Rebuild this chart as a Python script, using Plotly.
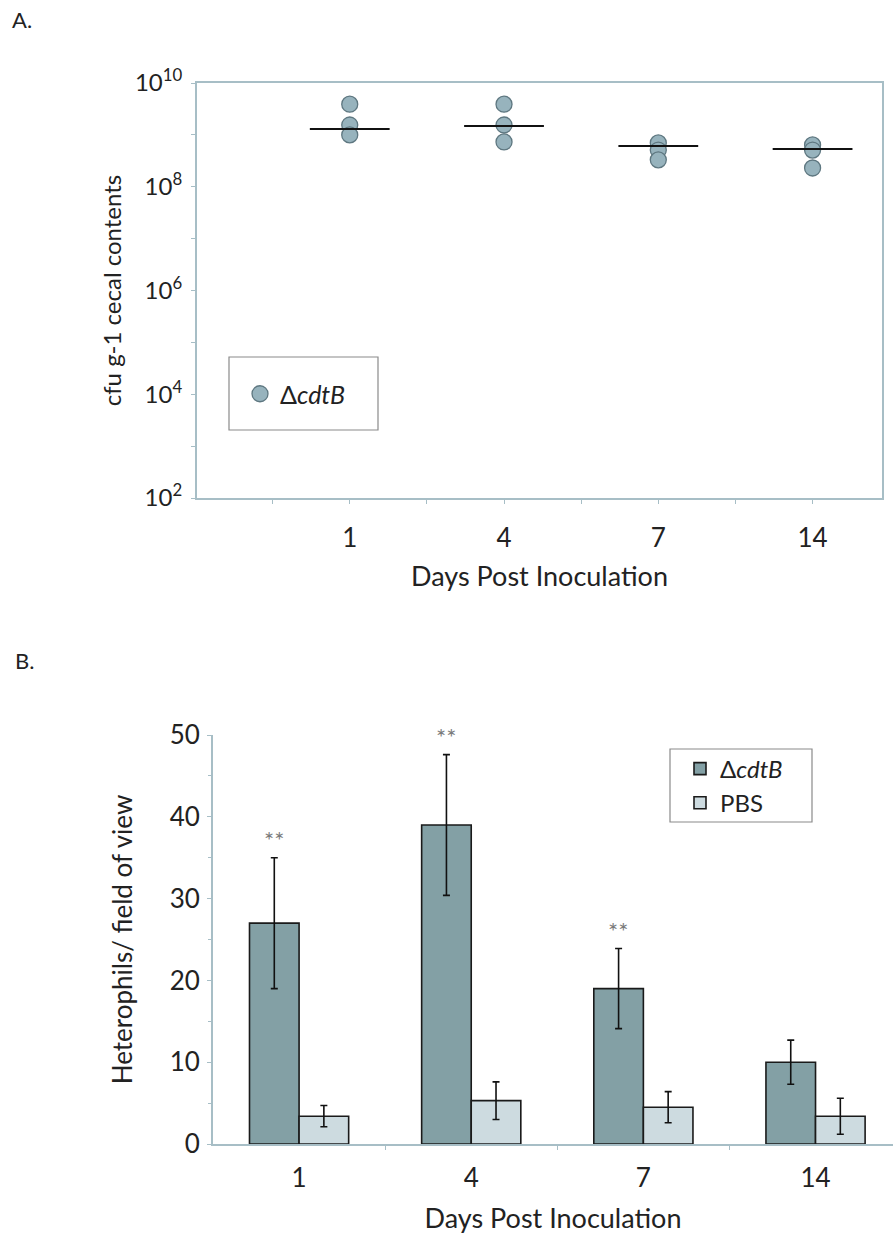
import plotly.graph_objects as go

# ---------------- data ----------------
days = ["1", "4", "7", "14"]
day_pos = [0, 1, 2, 3]

# Panel A: cfu per g cecal contents (ΔcdtB), individual birds per day
cfu_day1 = [3.9e9, 1.55e9, 1.0e9]
cfu_day4 = [3.9e9, 1.55e9, 7.3e8]
cfu_day7 = [7.0e8, 5.1e8, 3.3e8]
cfu_day14 = [6.4e8, 5.1e8, 2.3e8]
cfu_median = [1.3e9, 1.48e9, 6.1e8, 5.35e8]

# Panel B: heterophils per field of view
het_cdtb = [27, 39, 19, 10]
het_cdtb_err = [8, 8.6, 4.9, 2.7]
het_pbs = [3.4, 5.3, 4.5, 3.4]
het_pbs_err = [1.3, 2.3, 1.9, 2.2]
signif = ["**", "**", "**", ""]

y_major_a = [1e2, 1e4, 1e6, 1e8, 1e10]
y_labels_a = ["10<sup>2</sup>", "10<sup>4</sup>", "10<sup>6</sup>",
              "10<sup>8</sup>", "10<sup>10</sup>"]
y_minor_a = [1e3, 1e5, 1e7, 1e9]
y_ticks_b = [0, 10, 20, 30, 40, 50]

# ---------------- style ----------------
W, H = 893, 1240
FONT = "Lato, Open Sans, sans-serif"
TXT = "#222222"
AXIS_COL = "#a7bec6"
DOT_FILL = "#97b3bd"
DOT_LINE = "#5e7780"
BAR_DARK = "#83a0a5"
BAR_LIGHT = "#cddbe0"

def px_x(p):
    return p / W

def px_y(p):
    return 1 - p / H

def f(size, color=TXT):
    return dict(size=size, family=FONT, color=color)

fig = go.Figure()

# Panel A points
all_cfu = [cfu_day1, cfu_day4, cfu_day7, cfu_day14]
xs, ys = [], []
for pos, vals in zip(day_pos, all_cfu):
    xs += [pos] * len(vals)
    ys += vals
fig.add_trace(go.Scatter(
    x=xs, y=ys, mode="markers", name="Δ<i>cdtB</i>",
    marker=dict(symbol="circle", size=16, color=DOT_FILL,
                line=dict(color=DOT_LINE, width=1.3)),
    xaxis="x", yaxis="y", legend="legend"))
# Panel A medians
fig.add_trace(go.Scatter(
    x=day_pos, y=cfu_median, mode="markers", showlegend=False,
    marker=dict(symbol="line-ew", size=57, color="black",
                line=dict(color="#111111", width=2)),
    xaxis="x", yaxis="y"))

# Panel B bars
fig.add_trace(go.Bar(
    x=day_pos, y=het_cdtb, name="Δ<i>cdtB</i>",
    error_y=dict(type="data", array=het_cdtb_err, color="#111111",
                 thickness=1.6, width=3.5),
    marker=dict(color=BAR_DARK, line=dict(color="#1a1a1a", width=1.6)),
    xaxis="x2", yaxis="y2", legend="legend2"))
fig.add_trace(go.Bar(
    x=day_pos, y=het_pbs, name="PBS",
    error_y=dict(type="data", array=het_pbs_err, color="#111111",
                 thickness=1.6, width=3.5),
    marker=dict(color=BAR_LIGHT, line=dict(color="#1a1a1a", width=1.6)),
    xaxis="x2", yaxis="y2", legend="legend2"))

annotations = [
    dict(text="A.", x=px_x(10), y=px_y(20), xref="paper", yref="paper",
         xanchor="left", yanchor="middle", showarrow=False, font=f(22)),
    dict(text="B.", x=px_x(13), y=px_y(660), xref="paper", yref="paper",
         xanchor="left", yanchor="middle", showarrow=False, font=f(22)),
]
for pos, v, e, s in zip(day_pos, het_cdtb, het_cdtb_err, signif):
    if s:
        annotations.append(dict(
            text=s, x=pos, y=v + e, xref="x2", yref="y2", xshift=-25,
            yshift=2, yanchor="bottom", showarrow=False,
            font=f(24, "#7a7a7a")))

shapes = [
    dict(type="rect", xref="paper", yref="paper",
         x0=px_x(229), x1=px_x(378), y0=px_y(430), y1=px_y(357),
         line=dict(color="#8a8a8a", width=1.2), fillcolor="rgba(0,0,0,0)"),
    dict(type="rect", xref="paper", yref="paper",
         x0=px_x(670), x1=px_x(812), y0=px_y(822), y1=px_y(749),
         line=dict(color="#8a8a8a", width=1.2), fillcolor="rgba(0,0,0,0)"),
]

fig.update_layout(
    width=W, height=H, margin=dict(l=0, r=0, t=0, b=0),
    paper_bgcolor="white", plot_bgcolor="white",
    font=dict(family=FONT, color=TXT),
    barmode="group", bargap=0.424, bargroupgap=0,
    annotations=annotations, shapes=shapes,
    xaxis=dict(domain=[px_x(197), px_x(882)], anchor="y",
               range=[-0.99, 3.45], tickvals=day_pos, ticktext=days,
               ticks="outside", ticklen=4, tickcolor=AXIS_COL,
               showline=True, mirror=True, linecolor=AXIS_COL, linewidth=2,
               showgrid=False, zeroline=False, automargin=False,
               tickfont=f(26), ticklabelstandoff=12,
               minor=dict(tickvals=[-0.5, 0.5, 1.5, 2.5], ticks="outside",
                          ticklen=4, tickcolor=AXIS_COL, showgrid=False),
               title=dict(text="Days Post Inoculation", standoff=15,
                          font=f(27))),
    yaxis=dict(domain=[px_y(498), px_y(83)], anchor="x", type="log",
               range=[2, 10], tickvals=y_major_a, ticktext=y_labels_a,
               ticks="outside", ticklen=4, tickcolor=AXIS_COL,
               showline=True, mirror=True, linecolor=AXIS_COL, linewidth=2,
               showgrid=False, zeroline=False, automargin=False,
               tickfont=f(24), ticklabelstandoff=4,
               minor=dict(tickvals=y_minor_a, ticks="outside", ticklen=4,
                          tickcolor=AXIS_COL, showgrid=False),
               title=dict(text="cfu g-1 cecal contents", standoff=6,
                          font=f(24))),
    xaxis2=dict(domain=[px_x(213), 1.0], anchor="y2",
                range=[-0.5, 3.45], tickvals=day_pos, ticktext=days,
                ticks="", showline=True, linecolor=AXIS_COL, linewidth=2,
                showgrid=False, zeroline=False, automargin=False,
                tickfont=f(26), ticklabelstandoff=10,
                minor=dict(tickvals=[0.5, 1.5, 2.5], ticks="outside",
                           ticklen=4, tickcolor=AXIS_COL, showgrid=False),
                title=dict(text="Days Post Inoculation", standoff=17,
                           font=f(27))),
    yaxis2=dict(domain=[px_y(1144), px_y(735)], anchor="x2",
                range=[0, 50], tickvals=y_ticks_b, ticks="outside",
                ticklen=4, tickcolor=AXIS_COL, showline=True,
                linecolor=AXIS_COL, linewidth=2, showgrid=False,
                zeroline=False, automargin=False,
                tickfont=f(26), ticklabelstandoff=2,
                minor=dict(dtick=5, ticks="outside", ticklen=3,
                           tickcolor=AXIS_COL, showgrid=False),
                title=dict(text="Heterophils/ field of view", standoff=30,
                           font=f(26))),
    legend=dict(x=px_x(240), y=px_y(394), xanchor="left", yanchor="middle",
                bgcolor="rgba(0,0,0,0)", borderwidth=0, font=f(25)),
    legend2=dict(x=px_x(680), y=px_y(786), xanchor="left", yanchor="middle",
                 bgcolor="rgba(0,0,0,0)", borderwidth=0, tracegroupgap=0,
                 font=f(24)),
)

fig.write_html("out.html")
